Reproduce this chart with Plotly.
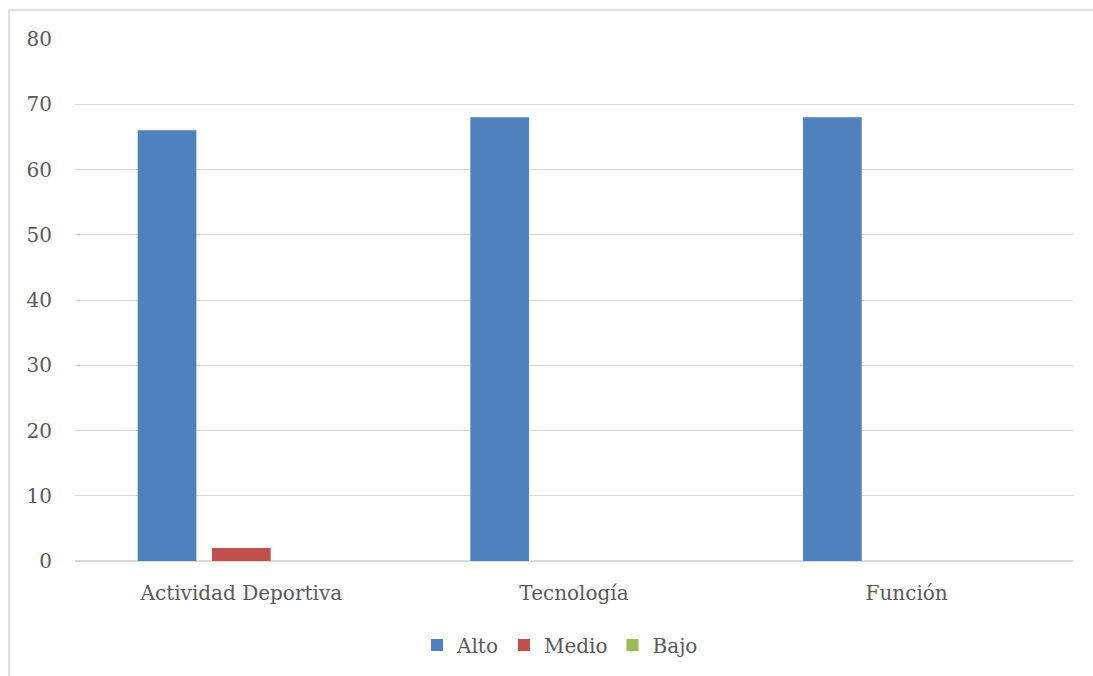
import plotly.graph_objects as go

categories = ["Actividad Deportiva", "Tecnología", "Función"]
alto = [66, 68, 68]
medio = [2, 0, 0]
bajo = [0, 0, 0]

series = [("Alto", alto, "#4F81BD"), ("Medio", medio, "#C0504D"), ("Bajo", bajo, "#9BBB59")]

FONT = "DejaVu Serif"
TXT = "#595959"
GRID = "#D9D9D9"

fig = go.Figure()
for name, vals, col in series:
    fig.add_trace(go.Bar(x=categories, y=vals, name=name, marker=dict(color=col, line=dict(width=0))))

fig.update_layout(
    width=1093, height=676,
    margin=dict(l=75, r=20, t=39, b=115),
    paper_bgcolor="white", plot_bgcolor="white",
    barmode="group", bargap=0.33, bargroupgap=0.21,
    font=dict(family=FONT, size=20, color=TXT),
    showlegend=True,
    legend=dict(orientation="h", x=0.486, xanchor="center", y=-0.161, yanchor="middle",
                font=dict(family=FONT, size=20, color=TXT), itemwidth=30, tracegroupgap=0),
    xaxis=dict(showgrid=False, showline=True, linecolor=GRID, linewidth=1,
               ticks="", tickfont=dict(family=FONT, size=20, color=TXT), ticklabelstandoff=14),
    yaxis=dict(range=[0, 80], dtick=10, showgrid=True, gridcolor=GRID, gridwidth=1,
               zeroline=True, zerolinecolor=GRID, showline=False, ticks="",
               tickfont=dict(family=FONT, size=20, color=TXT), ticklabelstandoff=22),
    shapes=[dict(type="rect", xref="paper", yref="paper",
                 x0=(9 - 75) / 998, x1=1.2, y0=-0.4, y1=1 + (39 - 10) / 522,
                 line=dict(color=GRID, width=1.5), fillcolor="rgba(0,0,0,0)", layer="below")],
)

fig.write_html("out.html")
